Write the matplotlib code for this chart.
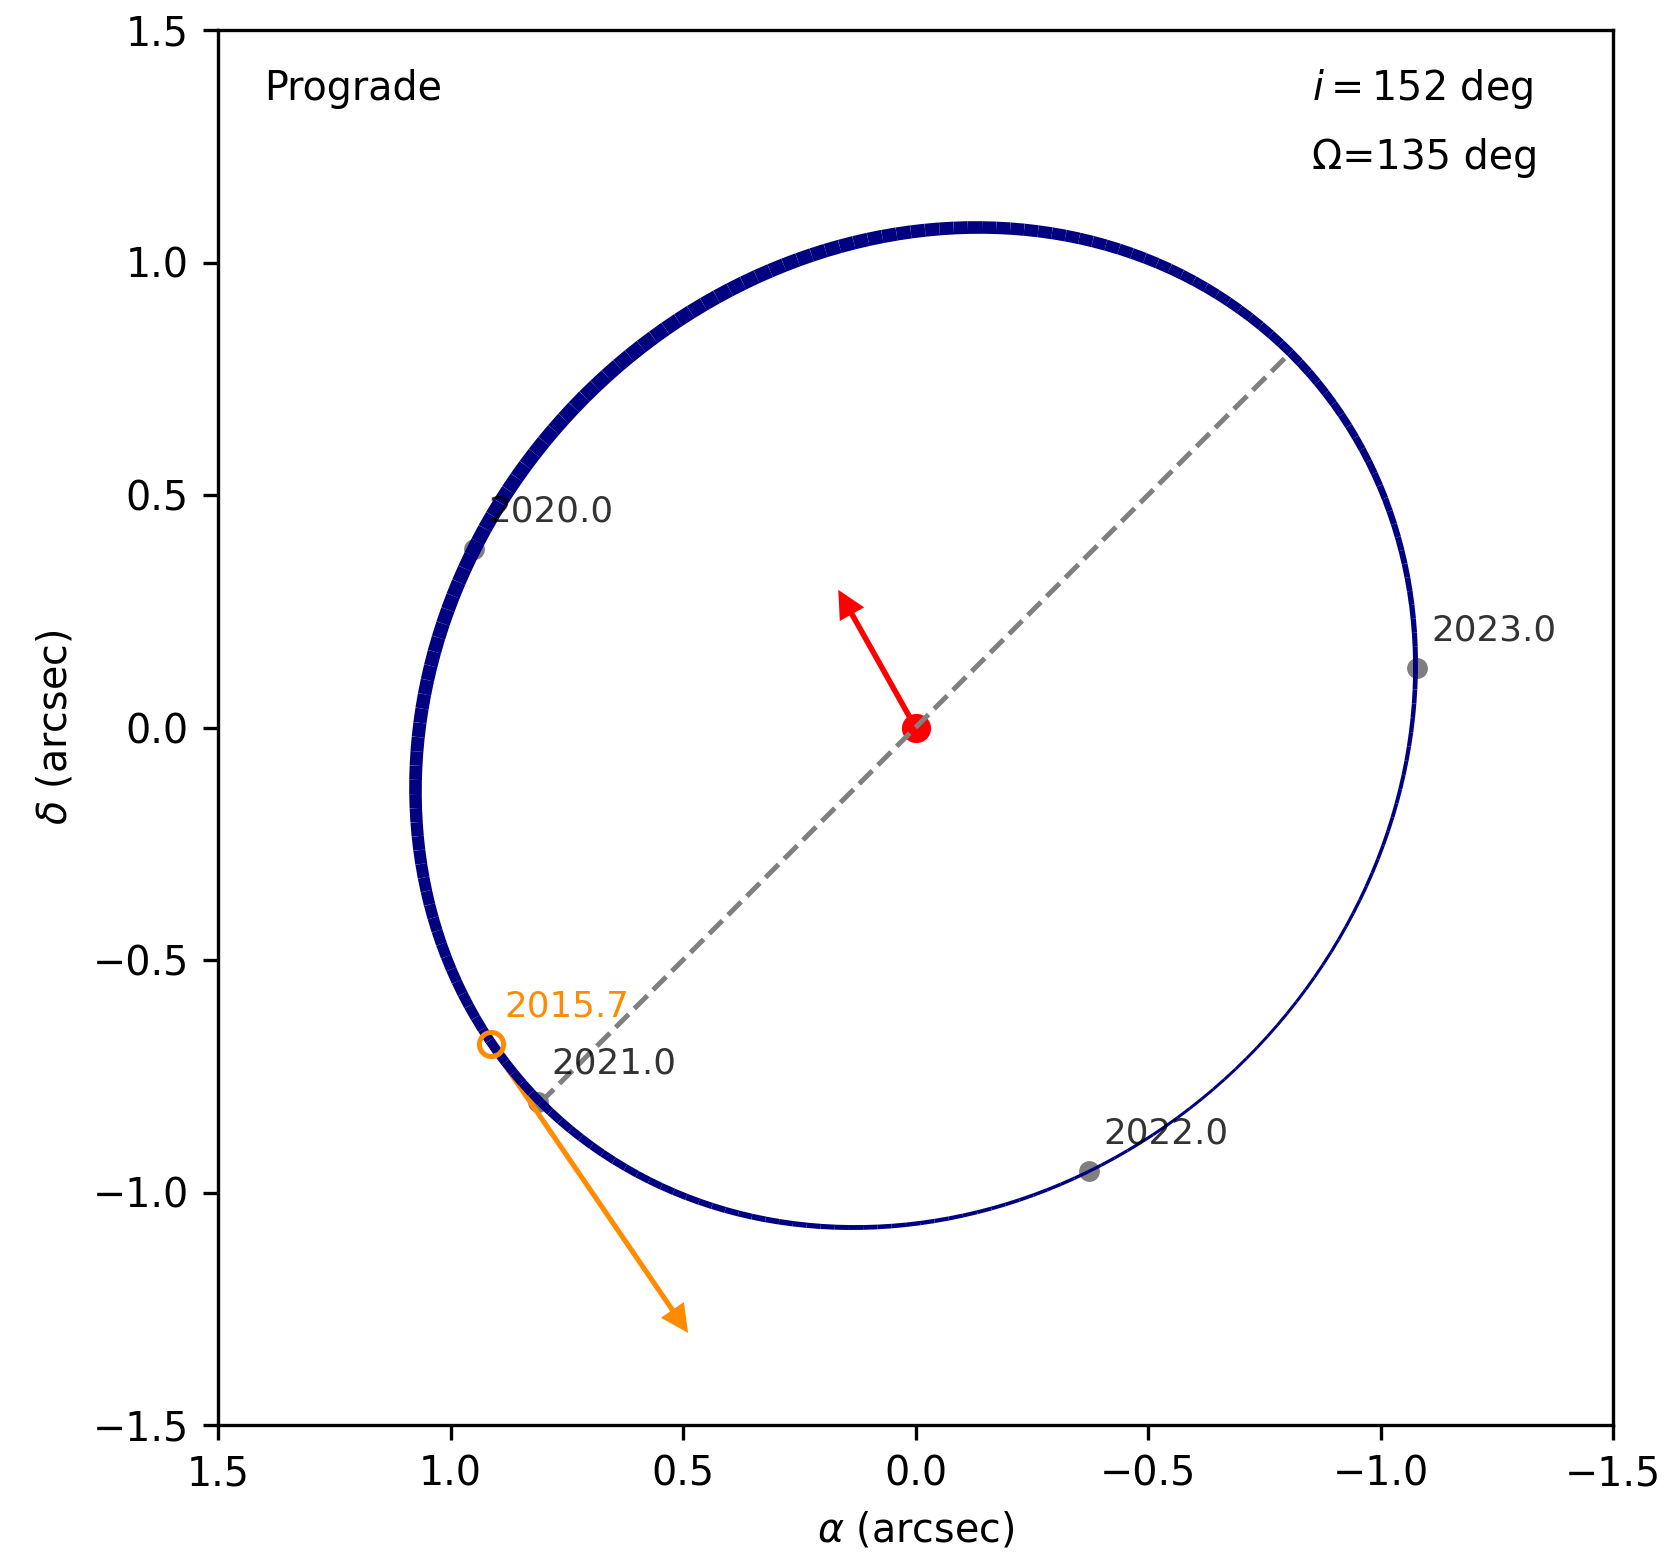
import numpy as np
import matplotlib
matplotlib.use("Agg")
import matplotlib.pyplot as plt
from matplotlib.collections import LineCollection

# Orbital elements (circular orbit)
semi_major = 1.14          # arcsec
inclination = 152.0        # deg
node_angle = 135.0         # deg (Omega)

# Epoch markers on the orbit (alpha, delta in arcsec)
epoch_labels = ["2020.0", "2021.0", "2022.0", "2023.0"]
epoch_alpha = [0.949, 0.812, -0.373, -1.079]
epoch_delta = [0.384, -0.805, -0.954, 0.127]

# Observed position and its motion vector
obs_label = "2015.7"
obs_alpha = 0.9135
obs_delta = -0.681
obs_vec_tip = (0.489, -1.302)

# Vector drawn from the central star
star_pos = (0.0, 0.0)
star_vec_tip = (0.166, 0.296)

plt.rcParams["font.family"] = ["DejaVu Sans"]
plt.rcParams["font.size"] = 9.5

fig = plt.figure(figsize=(1665 / 300, 1553 / 300), dpi=300)
ax = fig.add_axes([218 / 1665, 128 / 1553, 1395 / 1665, 1395 / 1553])

# Projected circular orbit; line width follows the line-of-sight coordinate
inc = np.radians(inclination)
Om = np.radians(node_angle)
u = np.linspace(0, 2 * np.pi, 221)
alpha = semi_major * (np.cos(u) * np.sin(Om) + np.sin(u) * np.cos(Om) * np.cos(inc))
delta = semi_major * (np.cos(u) * np.cos(Om) - np.sin(u) * np.sin(Om) * np.cos(inc))
zlos = np.sin(u) * np.sin(inc)
pts = np.column_stack([alpha, delta])
segs = np.stack([pts[:-1], pts[1:]], axis=1)
zmid = 0.5 * (zlos[:-1] + zlos[1:])
widths = 2.1 + 1.4 * zmid / np.sin(inc)
lc = LineCollection(segs, linewidths=widths, colors="navy", zorder=3)
ax.add_collection(lc)

# Line of nodes
node_a = semi_major * np.sin(Om)
node_d = semi_major * np.cos(Om)
ax.plot([node_a, -node_a], [node_d, -node_d], ls="--", color="gray", lw=1.2, zorder=2)

# Central star and its vector
ax.arrow(star_pos[0], star_pos[1], star_vec_tip[0] - star_pos[0], star_vec_tip[1] - star_pos[1],
         width=0.012, head_width=0.06, head_length=0.06, length_includes_head=True,
         color="red", lw=0, zorder=1.5)
ax.plot(star_pos[0], star_pos[1], "o", color="red", ms=6, zorder=1.6)

# Epoch markers
ax.plot(epoch_alpha, epoch_delta, "o", color="k", alpha=0.5, ms=5, mew=0, zorder=1)
for lab, xa, yd in zip(epoch_labels, epoch_alpha, epoch_delta):
    ax.text(xa - 0.03, yd + 0.06, lab, color="k", alpha=0.8, fontsize=8.6, zorder=5)

# Observed position with motion vector
ax.arrow(obs_alpha, obs_delta, obs_vec_tip[0] - obs_alpha, obs_vec_tip[1] - obs_delta,
         width=0.011, head_width=0.06, head_length=0.06, length_includes_head=True,
         color="darkorange", lw=0, zorder=2.5)
ax.plot(obs_alpha, obs_delta, "o", mfc="none", mec="darkorange", ms=5.8, mew=1.2, zorder=4)
ax.text(obs_alpha - 0.03, obs_delta + 0.06, obs_label, color="darkorange", fontsize=8.6, zorder=5)

ax.text(0.033, 0.95, "Prograde", transform=ax.transAxes, fontsize=9.5)
ax.text(0.784, 0.95, r"$i = 152$ deg", transform=ax.transAxes, fontsize=9.5)
ax.text(0.784, 0.90, "\u03a9=135 deg", transform=ax.transAxes, fontsize=9.5)

ax.set_xlim(1.5, -1.5)
ax.set_ylim(-1.5, 1.5)
ax.set_xticks(np.arange(1.5, -1.51, -0.5))
ax.set_yticks(np.arange(-1.5, 1.51, 0.5))
ax.set_xlabel(r"$\alpha$ (arcsec)")
ax.set_ylabel(r"$\delta$ (arcsec)")

fig.savefig("out.png", dpi=300)
